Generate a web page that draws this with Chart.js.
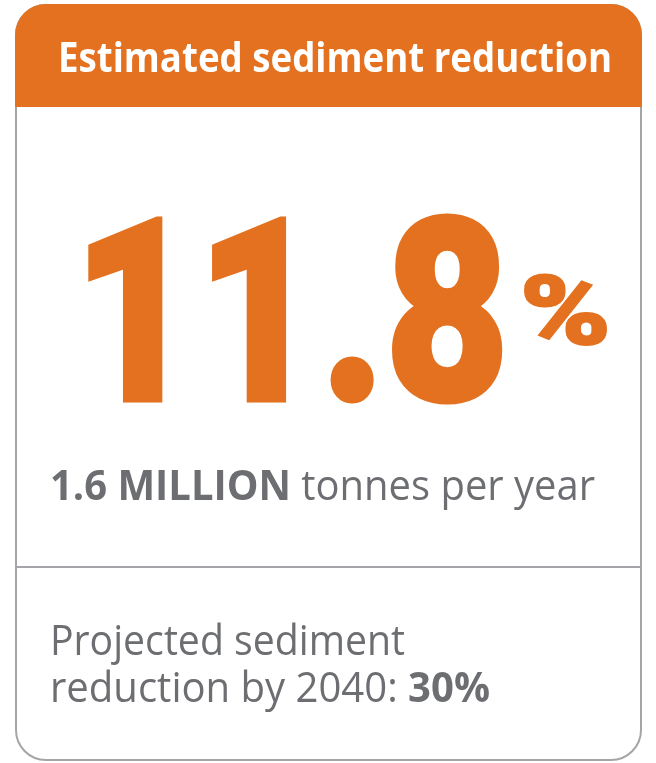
<!DOCTYPE html>
<html>
<head>
<meta charset="utf-8">
<script src="https://cdn.jsdelivr.net/npm/chart.js@4"></script>
<style>
  html,body{margin:0;padding:0;background:#fff;}
  #wrap{position:relative;width:656px;height:763px;overflow:hidden;}
  #c{position:absolute;left:0;top:0;}
  .t{position:absolute;white-space:nowrap;font-family:"Open Sans",sans-serif;line-height:1;transform-origin:0 0;}
  .bl{display:inline-block;width:0;height:0;}
</style>
</head>
<body>
<div id="wrap">
  <canvas id="c" width="656" height="763"></canvas>
</div>
<script>
// ---- data ----
const titleText = ['Estimated sediment reduction'];
const headlineValue = [11.8];
const tonnesMillion = [1.6];
const projectedYear = [2040];
const projectedPct = [30];

const ORANGE = '#E3711F';
const GRAY = '#6D6E71';
const BORDER = '#A3A5A8';

// card frame drawn through a Chart.js plugin
const cardFrame = {
  id: 'cardFrame',
  beforeDraw(chart) {
    const ctx = chart.ctx;
    const L = 16, R = 641, T = 5, B = 760, r = 30, H = 107, D = 567;
    ctx.save();
    ctx.fillStyle = '#fff';
    ctx.fillRect(0, 0, chart.width, chart.height);
    ctx.beginPath();
    ctx.roundRect(L, T, R - L, B - T, r);
    ctx.lineWidth = 2;
    ctx.strokeStyle = BORDER;
    ctx.stroke();
    ctx.beginPath();
    ctx.roundRect(L - 1, T - 1, R - L + 2, H - T + 1, [r + 1, r + 1, 0, 0]);
    ctx.fillStyle = ORANGE;
    ctx.fill();
    ctx.beginPath();
    ctx.moveTo(L, D); ctx.lineTo(R, D);
    ctx.lineWidth = 2;
    ctx.strokeStyle = BORDER;
    ctx.stroke();
    ctx.restore();
  }
};

new Chart(document.getElementById('c'), {
  type: 'bar',
  data: { labels: [], datasets: [{ data: [] }] },
  options: {
    responsive: false,
    animation: false,
    events: [],
    plugins: { legend: { display: false }, tooltip: { enabled: false } },
    scales: { x: { display: false }, y: { display: false } }
  },
  plugins: [cardFrame]
});

// ---- text (real DOM text) ----
const wrap = document.getElementById('wrap');
function place(html, opts) {
  const d = document.createElement('div');
  d.className = 't';
  d.style.fontSize = opts.size + 'px';
  d.style.color = opts.color;
  d.style.fontWeight = opts.weight || 400;
  if (opts.family) d.style.fontFamily = opts.family;
  if (opts.stroke) {
    d.style.webkitTextStroke = opts.stroke + 'px ' + opts.color;
  }
  d.innerHTML = html + '<span class="bl"></span>';
  d.style.left = opts.x + 'px';
  d.style.top = '0px';
  wrap.appendChild(d);
  const w = d.getBoundingClientRect().width;
  const base = d.querySelector('.bl').getBoundingClientRect().bottom - wrap.getBoundingClientRect().top;
  d.style.top = (opts.baseline - base) + 'px';
  if (opts.width) {
    const s = opts.width / w;
    d.style.transform = 'scaleX(' + s + ')';
    d.style.transformOrigin = '0 ' + base + 'px';
  }
  return d;
}

place(titleText[0], {x: 58, baseline: 72, size: 42, weight: 700, color: '#fff', width: 554});
place(String(headlineValue[0]), {x: 73, baseline: 400, size: 255, weight: 900, color: ORANGE, width: 436, family: 'Roboto, sans-serif', stroke: 5});
place('%', {x: 520, baseline: 344, size: 96, weight: 900, color: ORANGE, width: 91, family: 'Roboto, sans-serif', stroke: 2});
place('<b style="font-weight:700">' + tonnesMillion[0] + ' MILLION</b> tonnes per year',
      {x: 50, baseline: 500, size: 42, weight: 400, color: GRAY, width: 545});
place('Projected sediment', {x: 50, baseline: 655, size: 42, weight: 400, color: GRAY, width: 355});
place('reduction by ' + projectedYear[0] + ': <b style="font-weight:700">' + projectedPct[0] + '%</b>',
      {x: 50, baseline: 702, size: 42, weight: 400, color: GRAY, width: 440});
</script>
</body>
</html>
